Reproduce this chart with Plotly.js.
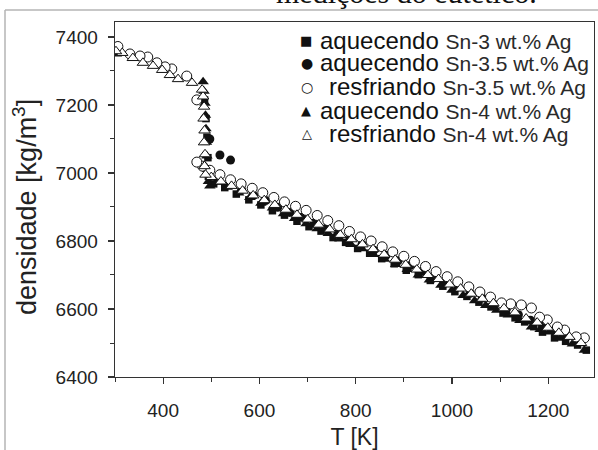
<!DOCTYPE html>
<html>
<head>
<meta charset="utf-8">
<script src="https://cdn.plot.ly/plotly-3.0.1.min.js"></script>
<style>html,body{margin:0;padding:0;background:#fff;}#chart{width:598px;height:450px;}</style>
</head>
<body>
<div id="chart"></div>
<script>
// ---- data ----
const seriesNames = ["aquecendo Sn-3 wt.% Ag", "aquecendo Sn-3.5 wt.% Ag", "resfriando Sn-3.5 wt.% Ag", "aquecendo Sn-4 wt.% Ag", "resfriando Sn-4 wt.% Ag"];
const legendMain = ["aquecendo", "aquecendo", "resfriando", "aquecendo", "resfriando"];
const legendSub = ["Sn-3 wt.% Ag", "Sn-3.5 wt.% Ag", "Sn-3.5 wt.% Ag", "Sn-4 wt.% Ag", "Sn-4 wt.% Ag"];

const T_heat3 = [303, 486, 489, 491, 493, 494, 505, 528, 552, 578, 603, 627, 652, 678, 703, 728, 753, 779, 804, 829, 854, 880, 905, 930, 955, 981, 1006, 1031, 1056, 1081, 1106, 1131, 1151, 1170, 1188, 1213, 1236, 1261, 1279];
const rho_heat3 = [7360, 7215, 7160, 7105, 7045, 6990, 6968, 6957, 6938, 6921, 6906, 6889, 6876, 6858, 6842, 6829, 6810, 6796, 6778, 6764, 6748, 6733, 6714, 6701, 6684, 6667, 6651, 6637, 6620, 6606, 6588, 6574, 6562, 6548, 6532, 6515, 6505, 6494, 6479];

const T_heat35 = [497, 518, 540, 563, 588, 613, 638, 663, 688, 713, 738, 763, 788, 813, 838, 863, 888, 913, 938, 963, 988, 1013, 1038, 1063, 1088, 1113, 1138, 1163, 1188, 1213, 1238, 1263];
const rho_heat35 = [7100, 7053, 7038, 6951, 6934, 6919, 6899, 6884, 6870, 6852, 6837, 6822, 6806, 6790, 6773, 6758, 6742, 6728, 6711, 6694, 6678, 6665, 6646, 6632, 6613, 6600, 6583, 6567, 6550, 6535, 6519, 6503];

const T_cool35 = [1275, 1258, 1234, 1219, 1198, 1182, 1165, 1144, 1122, 1103, 1080, 1058, 1035, 1012, 990, 967, 945, 922, 900, 877, 855, 832, 810, 787, 765, 742, 720, 697, 675, 652, 630, 607, 585, 562, 540, 518, 497, 482, 470, 470, 449, 418, 404, 387, 368, 352, 331, 306];
const rho_cool35 = [6515, 6518, 6538, 6547, 6568, 6576, 6603, 6612, 6615, 6618, 6635, 6650, 6665, 6680, 6695, 6710, 6725, 6740, 6755, 6768, 6783, 6800, 6812, 6828, 6845, 6860, 6875, 6890, 6902, 6915, 6928, 6942, 6955, 6968, 6980, 6995, 7008, 7020, 7032, 7215, 7285, 7306, 7312, 7324, 7341, 7344, 7350, 7372];

const T_heat4 = [303, 483, 485, 487, 488, 489, 490, 491, 492, 494, 497, 510, 533, 557, 580, 603, 627, 650, 673, 697, 720, 743, 767, 790, 813, 837, 860, 883, 907, 930, 953, 977, 1000, 1023, 1047, 1070, 1093, 1117, 1141, 1165, 1183, 1202, 1225, 1250, 1275];
const rho_heat4 = [7350, 7268, 7240, 7205, 7170, 7130, 7090, 7050, 7010, 6975, 6962, 6973, 6958, 6941, 6928, 6911, 6897, 6880, 6866, 6851, 6836, 6822, 6806, 6790, 6777, 6760, 6746, 6731, 6716, 6700, 6685, 6670, 6655, 6640, 6624, 6610, 6596, 6582, 6566, 6547, 6540, 6532, 6514, 6497, 6479];

const T_cool4 = [1268, 1244, 1222, 1199, 1177, 1154, 1131, 1108, 1086, 1063, 1040, 1018, 995, 972, 950, 927, 904, 882, 859, 836, 814, 791, 768, 746, 723, 700, 678, 655, 632, 610, 587, 565, 542, 520, 500, 488, 486, 487, 485, 486, 484, 485, 483, 481, 460, 431, 414, 398, 379, 358, 337, 315, 302];
const rho_cool4 = [6500, 6518, 6530, 6545, 6560, 6572, 6590, 6602, 6617, 6630, 6645, 6660, 6672, 6688, 6700, 6716, 6730, 6745, 6760, 6776, 6790, 6805, 6818, 6834, 6848, 6863, 6877, 6892, 6906, 6920, 6934, 6948, 6962, 6975, 6988, 6995, 7020, 7055, 7090, 7125, 7160, 7195, 7225, 7245, 7265, 7276, 7288, 7303, 7315, 7324, 7338, 7353, 7358];

const xTickVals = [400, 600, 800, 1000, 1200];
const yTickVals = [6400, 6600, 6800, 7000, 7200, 7400];
const xTitle = "T [K]";
const yTitle = "densidade [kg/m<sup>3</sup>]";
const pageTitle = "medições do eutético.";

// ---- styles ----
const INK = "#111";
const mk = (symbol, size, open) => ({
  symbol: symbol, size: size,
  color: open ? "#fff" : INK,
  line: {color: INK, width: open ? 1 : 0}
});

const traces = [
  {x: T_heat3, y: rho_heat3, name: seriesNames[0], mode: "markers", marker: mk("square", 7.5, false)},
  {x: T_heat4, y: rho_heat4, name: seriesNames[3], mode: "markers", marker: mk("triangle-up", 10, false)},
  {x: T_heat35, y: rho_heat35, name: seriesNames[1], mode: "markers", marker: mk("circle", 9, false)},
  {x: T_cool35, y: rho_cool35, name: seriesNames[2], mode: "markers", marker: mk("circle", 10, true)},
  {x: T_cool4, y: rho_cool4, name: seriesNames[4], mode: "markers", marker: mk("triangle-up", 10, true)}
];

// plot-area geometry in pixels
const W = 598, H = 450, L = 115, R = 4, TOP = 22, B = 73;
const pw = W - L - R, ph = H - TOP - B;
const px2x = p => (p - L) / pw;
const py2y = p => (H - B - p) / ph;

// legend rows (drawn as text annotations)
const legSym = ["■", "●", "○", "▲", "△"];
const legSymSize = [13, 14, 14, 13, 13];
const legRowY = [40, 63, 87, 110, 133];
const legSymX = [306, 307, 307, 306, 307];
const legTextX = [318, 318, 327, 318, 327];

const annotations = [];
for (let i = 0; i < 5; i++) {
  annotations.push({
    xref: "paper", yref: "paper", x: px2x(legSymX[i]), y: py2y(legRowY[i]),
    xanchor: "center", yanchor: "middle", showarrow: false,
    text: legSym[i], font: {family: "DejaVu Sans", size: legSymSize[i], color: INK}
  });
  annotations.push({
    xref: "paper", yref: "paper", x: px2x(legTextX[i]), y: py2y(legRowY[i]),
    xanchor: "left", yanchor: "middle", showarrow: false,
    text: legendMain[i] + ' <span style="font-size:21px;color:#2a2a2a">' + legendSub[i] + '</span>',
    font: {family: "Liberation Sans, Arial, sans-serif", size: 24, color: INK}
  });
}
// page heading cut off at the top of the picture
annotations.push({
  xref: "paper", yref: "paper", x: px2x(406), y: py2y(11),
  xanchor: "center", yanchor: "bottom", showarrow: false,
  text: pageTitle, font: {family: "Liberation Serif, Times New Roman, serif", size: 30, color: "#111"}
});
// y-axis title (placed to match the reference's vertical offset)
annotations.push({
  xref: "paper", yref: "paper", x: px2x(25), y: py2y(207),
  xanchor: "center", yanchor: "middle", showarrow: false, textangle: -90,
  text: yTitle, font: {family: "Liberation Sans, Arial, sans-serif", size: 27, color: "#222"}
});

const axisCommon = {
  showgrid: false, zeroline: false, showline: true, mirror: true,
  linecolor: "#333", linewidth: 1.3,
  ticks: "outside", ticklen: 6, tickwidth: 1.2, tickcolor: "#333",
  tickfont: {family: "Liberation Sans, Arial, sans-serif", size: 19, color: "#222"}
};

const layout = {
  width: W, height: H,
  margin: {l: L, r: R, t: TOP, b: B, pad: 0},
  paper_bgcolor: "#fff", plot_bgcolor: "#fff",
  showlegend: false,
  xaxis: Object.assign({}, axisCommon, {
    range: [300, 1295], tickvals: xTickVals, ticklabelstandoff: 10,
    minor: {dtick: 100, tick0: 300, ticks: "outside", ticklen: 4, tickwidth: 1, tickcolor: "#333"},
    title: {text: xTitle, standoff: 15, font: {family: "Liberation Sans, Arial, sans-serif", size: 23, color: "#222"}}
  }),
  yaxis: Object.assign({}, axisCommon, {
    range: [6400, 7444], tickvals: yTickVals, ticklabelstandoff: 6,
    minor: {dtick: 100, tick0: 6400, ticks: "outside", ticklen: 4, tickwidth: 1, tickcolor: "#333"}
  }),
  annotations: annotations,
  shapes: [
    {type: "line", xref: "paper", yref: "paper", x0: px2x(5), x1: px2x(5), y0: py2y(450), y1: py2y(10), line: {color: "#b5b5b5", width: 1.5}},
    {type: "line", xref: "paper", yref: "paper", x0: px2x(5), x1: px2x(598), y0: py2y(10), y1: py2y(10), line: {color: "#b5b5b5", width: 1.5}}
  ]
};

Plotly.newPlot("chart", traces, layout, {staticPlot: true, displayModeBar: false});
</script>
</body>
</html>
